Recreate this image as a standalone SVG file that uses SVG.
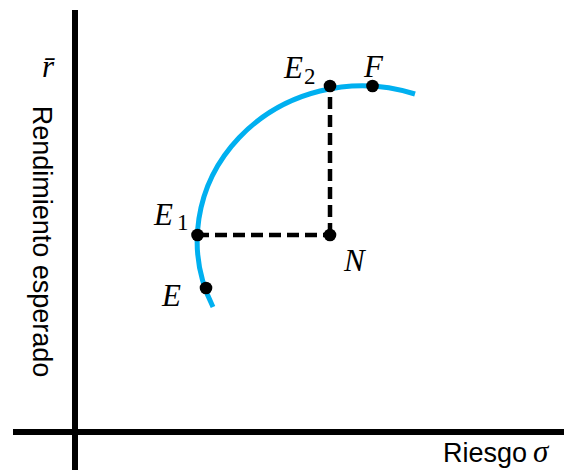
<svg xmlns="http://www.w3.org/2000/svg" width="564" height="470" viewBox="0 0 564 470">
  <style>
    .axis { stroke: #000; stroke-width: 6; fill: none; }
    .curve { stroke: #00B0F0; stroke-width: 5; fill: none; }
    .dash { stroke: #000; stroke-width: 4.5; stroke-dasharray: 12 6; fill: none; }
    .dot { fill: #000; }
    .lab { font-family: "Liberation Serif", serif; font-style: italic; font-size: 31px; fill: #000; }
    .sub { font-family: "Liberation Serif", serif; font-size: 23px; fill: #000; }
    .ax { font-family: "Liberation Sans", Arial, sans-serif; font-size: 27px; fill: #000; }
  </style>
  <rect width="564" height="470" fill="#fff"/>
  <g id="axes">
    <line class="axis" x1="75" y1="10" x2="75" y2="470"/>
    <line class="axis" x1="13" y1="432" x2="564" y2="432"/>
    <text class="ax" transform="translate(33,241.5) rotate(90)" text-anchor="middle">Rendimiento esperado</text>
    <text class="ax" x="443" y="462">Riesgo</text>
    <text class="lab" x="533" y="462">σ</text>
    <text class="lab" x="42" y="77">r̄</text>
  </g>
  <g id="frontier">
    <path class="curve" d="M 213,307 A 165 155 0 0 1 415,94"/>
  </g>
  <g id="connectors">
    <line class="dash" x1="197" y1="235" x2="330" y2="235"/>
    <line class="dash" x1="330" y1="235" x2="330" y2="86"/>
  </g>
  <g id="node-E">
    <circle class="dot" cx="206" cy="288" r="6.3"/>
    <text class="lab" x="162" y="306">E</text>
  </g>
  <g id="node-E1">
    <circle class="dot" cx="197.5" cy="235" r="6.3"/>
    <text class="lab" x="154" y="225">E</text>
    <text class="sub" x="177" y="230">1</text>
  </g>
  <g id="node-E2">
    <circle class="dot" cx="330" cy="86" r="6.3"/>
    <text class="lab" x="284" y="78">E</text>
    <text class="sub" x="304" y="84">2</text>
  </g>
  <g id="node-F">
    <circle class="dot" cx="372.5" cy="86" r="6.3"/>
    <text class="lab" x="364" y="77">F</text>
  </g>
  <g id="node-N">
    <circle class="dot" cx="330" cy="235" r="6.3"/>
    <text class="lab" x="344" y="271">N</text>
  </g>
</svg>
